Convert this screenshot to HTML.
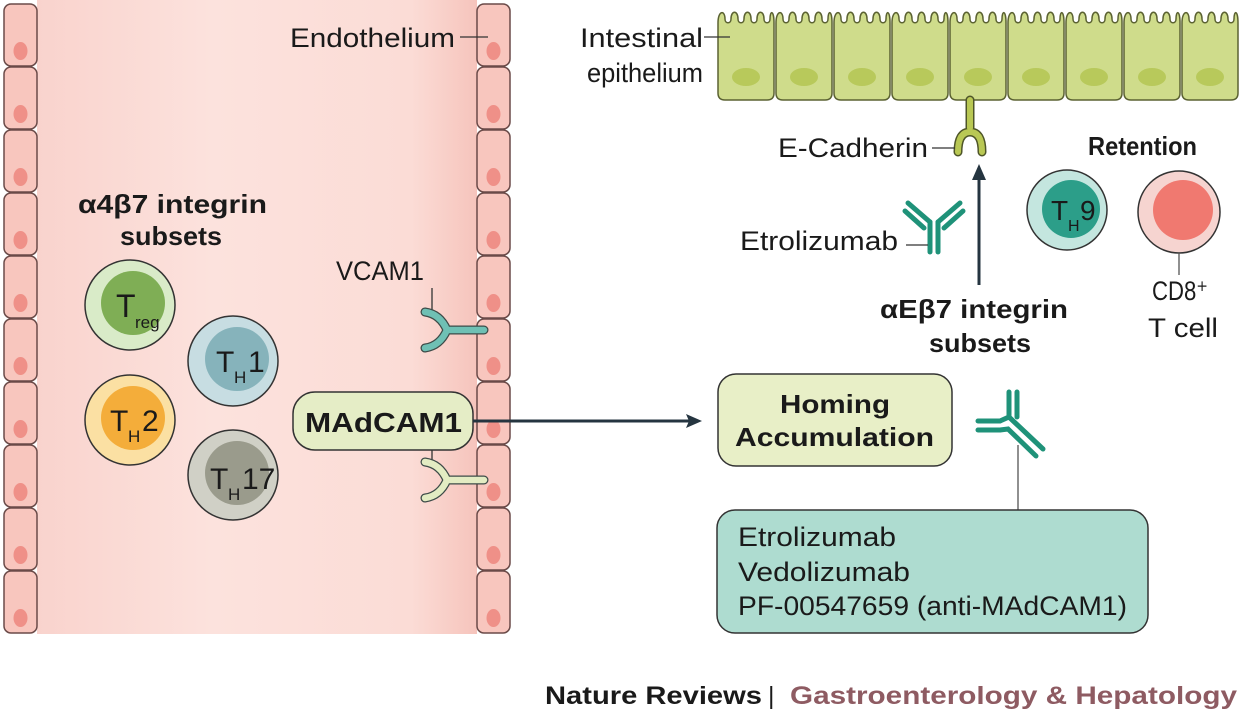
<!DOCTYPE html>
<html><head><meta charset="utf-8"><style>
html,body{margin:0;padding:0;background:#fff;width:1240px;height:718px;overflow:hidden}
svg{display:block}
text{font-family:"Liberation Sans","DejaVu Sans",sans-serif;fill:#1a1a1a}
.b{font-weight:bold}
</style></head><body>
<svg width="1240" height="718" viewBox="0 0 1240 718" xmlns="http://www.w3.org/2000/svg">
<defs>
<linearGradient id="pk" x1="0" x2="1" y1="0" y2="0">
<stop offset="0" stop-color="#f9d3cd"/><stop offset="0.4" stop-color="#fce2dd"/><stop offset="0.85" stop-color="#fbdcd6"/><stop offset="1" stop-color="#f6c4bc"/></linearGradient>
<g id="ec"><rect x="0" y="0" width="33" height="62" rx="7" fill="#f8c6be" stroke="#6a4a48" stroke-width="1.5"/><ellipse cx="16.5" cy="47" rx="7" ry="9" fill="#ef9088"/></g>
<g id="epi"><path d="M1,16 C1,3 8,3 8,12 C8,17 14,17 14,12 C14,3 21,3 21,12 C21,17 27,17 27,12 C27,3 34,3 34,12 C34,17 40,17 40,12 C40,3 47,3 47,12 C47,17 53,17 53,12 C53,3 57,3 57,16 L57,86 q0,7 -7,7 L8,93 q-7,0 -7,-7 Z" fill="#cfdc8b" stroke="#5b6232" stroke-width="1.5"/><ellipse cx="29" cy="70" rx="14" ry="9" fill="#b8c95b"/></g>
</defs>
<rect x="37" y="0" width="440" height="634" fill="url(#pk)"/>
<g>
<use href="#ec" x="4" y="4"/><use href="#ec" x="4" y="67"/><use href="#ec" x="4" y="130"/><use href="#ec" x="4" y="193"/><use href="#ec" x="4" y="256"/><use href="#ec" x="4" y="319"/><use href="#ec" x="4" y="382"/><use href="#ec" x="4" y="445"/><use href="#ec" x="4" y="508"/><use href="#ec" x="4" y="571"/>
<use href="#ec" x="477" y="4"/><use href="#ec" x="477" y="67"/><use href="#ec" x="477" y="130"/><use href="#ec" x="477" y="193"/><use href="#ec" x="477" y="256"/><use href="#ec" x="477" y="319"/><use href="#ec" x="477" y="382"/><use href="#ec" x="477" y="445"/><use href="#ec" x="477" y="508"/><use href="#ec" x="477" y="571"/>
</g>
<text x="290" y="47" font-size="27" textLength="165" lengthAdjust="spacingAndGlyphs">Endothelium</text>
<line x1="460" y1="37" x2="488" y2="37" stroke="#333" stroke-width="1.3"/>
<text x="78" y="213" font-size="26" class="b" textLength="189" lengthAdjust="spacingAndGlyphs">α4β7 integrin</text>
<text x="120" y="245" font-size="26" class="b" textLength="102" lengthAdjust="spacingAndGlyphs">subsets</text>
<text x="336" y="280" font-size="27" textLength="88" lengthAdjust="spacingAndGlyphs">VCAM1</text>
<line x1="432" y1="288" x2="432" y2="312" stroke="#333" stroke-width="1.3"/>
<path d="M425,312 q15,2 22,18 q-7,16 -22,18 M447,330 L484,330" fill="none" stroke="#3d4b48" stroke-width="9" stroke-linecap="round"/>
<path d="M425,312 q15,2 22,18 q-7,16 -22,18 M447,330 L484,330" fill="none" stroke="#6fc0b4" stroke-width="6.5" stroke-linecap="round"/>
<line x1="432" y1="450" x2="432" y2="464" stroke="#333" stroke-width="1.3"/>
<path d="M425,462 q15,2 22,18 q-7,16 -22,18 M447,480 L484,480" fill="none" stroke="#3d4b48" stroke-width="9" stroke-linecap="round"/>
<path d="M425,462 q15,2 22,18 q-7,16 -22,18 M447,480 L484,480" fill="none" stroke="#e3ecc3" stroke-width="6.5" stroke-linecap="round"/>
<!-- T cells -->
<circle cx="130" cy="305" r="45" fill="#d9ebc8" stroke="#333" stroke-width="1.5"/><circle cx="133" cy="303" r="32" fill="#7fae55"/>
<text x="116" y="317" font-size="32">T</text><text x="135" y="328" font-size="17">reg</text>
<circle cx="233" cy="361" r="45" fill="#c7dde2" stroke="#333" stroke-width="1.5"/><circle cx="237" cy="359" r="32" fill="#86b3bb"/>
<text x="216" y="372" font-size="30">T</text><text x="234" y="383" font-size="17">H</text><text x="248" y="372" font-size="30">1</text>
<circle cx="130" cy="420" r="45" fill="#fbe0a3" stroke="#333" stroke-width="1.5"/><circle cx="133" cy="418" r="32" fill="#f4ad3a"/>
<text x="110" y="431" font-size="30">T</text><text x="128" y="442" font-size="17">H</text><text x="142" y="431" font-size="30">2</text>
<circle cx="233" cy="475" r="45" fill="#d0d0c6" stroke="#333" stroke-width="1.5"/><circle cx="237" cy="473" r="32" fill="#9a9b8c"/>
<text x="210" y="489" font-size="30">T</text><text x="228" y="500" font-size="17">H</text><text x="242" y="489" font-size="30">17</text>
<!-- MAdCAM1 -->
<rect x="293" y="392" width="180" height="58" rx="22" fill="#e5edc6" stroke="#333" stroke-width="1.5"/>
<text x="305" y="432" font-size="28" class="b" textLength="157" lengthAdjust="spacingAndGlyphs">MAdCAM1</text>
<line x1="473" y1="421" x2="690" y2="421" stroke="#253540" stroke-width="3"/>
<path d="M702,421 L686,414 L689,421 L686,428 Z" fill="#253540"/>
<!-- Homing -->
<rect x="718" y="374" width="234" height="92" rx="18" fill="#e8efc7" stroke="#333" stroke-width="1.5"/>
<text x="780" y="413" font-size="26" class="b" textLength="110" lengthAdjust="spacingAndGlyphs">Homing</text>
<text x="735" y="446" font-size="26" class="b" textLength="199" lengthAdjust="spacingAndGlyphs">Accumulation</text>
<!-- lower antibody -->
<g stroke="#1f9279" stroke-width="5" stroke-linecap="round" fill="none">
<line x1="1009" y1="392" x2="1009" y2="417"/><line x1="1017" y1="392" x2="1017" y2="417"/>
<line x1="978" y1="421" x2="1000" y2="421"/><line x1="978" y1="430" x2="1000" y2="430"/>
<path d="M1000,421 L1009,417 L1043,449"/><path d="M1000,430 L1008,429 L1036,456"/>
</g>
<line x1="1018" y1="445" x2="1018" y2="510" stroke="#555" stroke-width="1.3"/>
<rect x="717" y="510" width="431" height="123" rx="18" fill="#aedcd0" stroke="#333" stroke-width="1.5"/>
<text x="738" y="546" font-size="27" textLength="158" lengthAdjust="spacingAndGlyphs">Etrolizumab</text>
<text x="738" y="581" font-size="27" textLength="172" lengthAdjust="spacingAndGlyphs">Vedolizumab</text>
<text x="738" y="615" font-size="27" textLength="389" lengthAdjust="spacingAndGlyphs">PF-00547659 (anti-MAdCAM1)</text>
<!-- epithelium -->
<g transform="translate(717,7)">
<use href="#epi" x="0"/><use href="#epi" x="58"/><use href="#epi" x="116"/><use href="#epi" x="174"/><use href="#epi" x="232"/><use href="#epi" x="290"/><use href="#epi" x="348"/><use href="#epi" x="406"/><use href="#epi" x="464"/>
</g>
<text x="580" y="47" font-size="27" textLength="123" lengthAdjust="spacingAndGlyphs">Intestinal</text>
<text x="587" y="82" font-size="27" textLength="116" lengthAdjust="spacingAndGlyphs">epithelium</text>
<line x1="704" y1="37" x2="730" y2="37" stroke="#333" stroke-width="1.3"/>
<!-- E-cadherin -->
<path d="M970,100 L970,128 M958,152 q0,-20 12,-20 q12,0 12,20" fill="none" stroke="#4e5528" stroke-width="9" stroke-linecap="round"/>
<path d="M970,100 L970,128 M958,152 q0,-20 12,-20 q12,0 12,20" fill="none" stroke="#b9c854" stroke-width="6" stroke-linecap="round"/>
<text x="778" y="157" font-size="27" textLength="150" lengthAdjust="spacingAndGlyphs">E-Cadherin</text>
<line x1="932" y1="148" x2="955" y2="148" stroke="#333" stroke-width="1.3"/>
<line x1="979" y1="285" x2="979" y2="178" stroke="#253540" stroke-width="3"/>
<path d="M979,164 L972,180 L986,180 Z" fill="#253540"/>
<!-- upper antibody -->
<g stroke="#1f9279" stroke-width="5" stroke-linecap="round" fill="none">
<line x1="930" y1="222" x2="930" y2="252"/><line x1="938" y1="222" x2="938" y2="252"/>
<path d="M930,222 L908,203"/><path d="M924,228 L905,211"/><path d="M938,222 L960,203"/><path d="M944,228 L963,211"/>
</g>
<text x="740" y="250" font-size="27" textLength="158" lengthAdjust="spacingAndGlyphs">Etrolizumab</text>
<line x1="906" y1="245" x2="928" y2="245" stroke="#333" stroke-width="1.3"/>
<text x="880" y="318" font-size="26" class="b" textLength="188" lengthAdjust="spacingAndGlyphs">αEβ7 integrin</text>
<text x="929" y="352" font-size="26" class="b" textLength="102" lengthAdjust="spacingAndGlyphs">subsets</text>
<text x="1088" y="155" font-size="26" class="b" textLength="109" lengthAdjust="spacingAndGlyphs">Retention</text>
<circle cx="1067" cy="210" r="40" fill="#c4e6df" stroke="#333" stroke-width="1.5"/><circle cx="1071" cy="209" r="29" fill="#2c9e89"/>
<text x="1051" y="220" font-size="28">T</text><text x="1068" y="231" font-size="16">H</text><text x="1080" y="220" font-size="28">9</text>
<circle cx="1179" cy="212" r="41" fill="#f6d4d0" stroke="#333" stroke-width="1.5"/><circle cx="1183" cy="210" r="30" fill="#f07970"/>
<line x1="1179" y1="253" x2="1179" y2="275" stroke="#555" stroke-width="1.3"/>
<text x="1152" y="300" font-size="27" textLength="56" lengthAdjust="spacingAndGlyphs">CD8⁺</text>
<text x="1148" y="337" font-size="27" textLength="70" lengthAdjust="spacingAndGlyphs">T cell</text>
<!-- footer -->
<text x="545" y="704" font-size="25" class="b" textLength="217" lengthAdjust="spacingAndGlyphs">Nature Reviews</text>
<text x="768" y="704" font-size="25">|</text>
<text x="790" y="704" font-size="25" class="b" textLength="447" lengthAdjust="spacingAndGlyphs" style="fill:#8e5b62">Gastroenterology &amp; Hepatology</text>
</svg>
</body></html>
